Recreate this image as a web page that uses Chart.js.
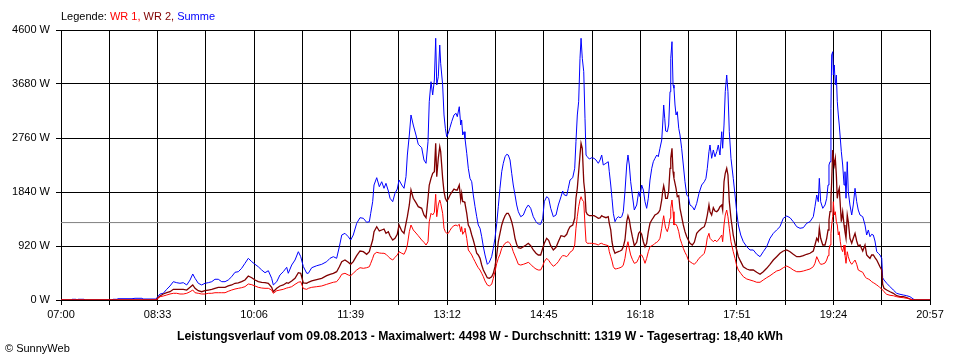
<!DOCTYPE html>
<html><head><meta charset="utf-8">
<script src="https://cdn.jsdelivr.net/npm/chart.js@4.4.0/dist/chart.umd.min.js"></script>
<style>html,body{margin:0;padding:0;background:#fff;}canvas{display:block;}</style>
</head><body>
<canvas id="c" width="960" height="360"></canvas>
<script>
// ---- data ----
const dayLabel = '09.08.2013';
const seriesNames = ['WR 1', 'WR 2', 'Summe'];
const xTickLabels = ['07:00','08:33','10:06','11:39','13:12','14:45','16:18','17:51','19:24','20:57'];
const yTickValues = [0, 920, 1840, 2760, 3680, 4600];
const averageW = 1319;
const maxW = 4498;
const yieldKWh = '18,40';

// minutes after 07:00
const minutes = [0,10,10.6,14.5,15.5,16.4,22.2,23.2,49,50.1,53.9,54.9,68.4,71.3,78,79,92,
92.8,95.4,98.5,101.8,105,108.2,111.4,114.6,117.8,121.1,124.3,126.9,129.1,132.2,135.5,138.7,141.9,145.2,148.3,151.5,154.8,158,161.1,164.4,167.6,170.8,174,177.2,180.4,183.7,186.9,190,193.3,196.5,199.7,202.9,204.5,207.8,210.9,214.1,217.4,218.9,222.2,225.4,228.6,230.9,233.4,236.7,238.2,241.5,246.3,251.1,255.9,259.1,262.3,265.5,268.1,270.4,273.5,276.7,279,281.5,284.8,288,291.2,294.4,297,298.3,300.2,301.5,304.1,306.6,308.9,311.1,313,315.3,316.9,319.5,321.7,323.9,325.6,328.2,330.4,332.3,333.6,335.5,337.1,339.3,341.9,344.1,347.4,349.6,351.6,353.5,354.7,356.4,358,359.6,360.9,361.9,363.4,364.8,365.7,367.6,368.9,370.2,371.5,373,374.7,376.3,378.5,380.5,381.7,383.6,385,385.9,386.9,388.2,389.1,390.8,392.3,393.9,395.6,397.1,398.8,400.4,401.9,403.6,405.2,406.8,408.4,410.6,412.5,414.8,416.4,418,419.7,421.2,422.8,424.5,426,427.7,429.3,430.8,432.5,434.1,435.6,437.3,438.9,440.5,442.8,445.3,447.9,450.1,452.4,454.9,457.5,459.7,462,464,465.5,467.8,469.7,471.7,474.2,476.8,479,481.6,483.2,484.8,487.1,488.6,490.3,492.9,494.8,496,497.3,498.6,499.9,500.9,502.1,503.5,504.7,505.7,506.9,508.9,511.2,513.4,515.3,517.5,519.2,520.8,522.3,524.9,527.1,528.1,529.5,530.7,532,533.6,535.2,536.8,538.4,540.1,541.6,543.2,544.9,546.1,547.4,548.7,550.3,552.2,554.5,556.4,557.7,559.3,560.9,562.5,564.1,565.7,567.3,569,570.5,572.1,573.8,575.3,576.9,578.6,579.5,580.5,581.5,582.4,584,585.3,586.6,587.3,588.5,589.5,590.4,591.4,592.4,593.6,595,596.2,597.8,599.4,601,602.7,604.2,605.8,608.1,610,612.3,614.5,617.1,619.6,621.2,622.5,624.1,625.1,626.7,628.3,629.9,631.6,633.1,634.7,636.4,637.3,638.6,639.8,641.2,642.4,643.7,645.3,647.5,649.2,650.8,652.4,654.7,657.2,660.5,663.6,666.8,670.1,673.3,676.4,679.7,682.9,686.1,689.3,692.5,695.7,699,702.2,705.3,708.6,711.8,715,718.2,721.4,724.6,726.2,727.9,729.4,730.4,731.7,733.7,735.9,737.5,738.8,739.7,740.7,741.6,742.3,743.3,743.9,744.8,745.8,746.8,747.7,748.7,749.6,750.6,751.6,752.9,754.2,755.1,756.1,757.3,758.3,759.9,761.6,763.1,764.8,766.4,767.9,769.6,772.2,774.4,776,777.6,779.2,780.8,782.4,784,785.7,787.2,788.8,790.5,791.4,792.7,795.3,798.5,801.7,804.9,808.1,811.3,814.6,817.7,820.9,822.6,837];

const summe = [0,0,12,12,0,12,12,0,0,12,12,22,22,29,29,17,17,
50,102,114,182,239,312,295,285,295,256,341,443,370,285,256,285,295,312,353,353,312,312,341,397,472,482,540,625,710,653,608,567,511,465,499,370,256,312,426,482,557,455,596,681,823,738,570,455,455,550,584,608,653,710,738,710,908,1107,1136,1078,1022,1107,1307,1402,1392,1324,1334,1477,1675,1959,2084,1930,2015,1903,1988,1857,1733,1675,1818,1891,2044,1959,1903,2101,2470,2811,3152,2981,2811,2653,2595,2385,2329,2697,3378,3719,3493,3748,4459,3663,3804,4344,4033,3663,3152,2925,2782,2840,2939,3038,3152,3181,3123,3293,2981,3067,2811,2867,2755,2499,2244,2073,2015,1789,1590,1419,1278,1222,1078,908,767,608,642,738,881,1051,1307,1590,1903,2186,2329,2441,2482,2470,2385,2159,1959,1789,1619,1504,1419,1448,1562,1619,1562,1419,1334,1295,1290,1392,1675,1760,1733,1562,1419,1448,1619,1760,1857,1789,1777,1903,2044,2084,2244,2697,3152,3378,4118,4459,4118,3890,3096,2470,2441,2402,2424,2414,2385,2329,2385,2470,2300,2329,2356,2186,1959,1733,1477,1334,1392,1419,1402,1419,1504,1845,2300,2470,2300,2015,1789,1533,1619,1845,1760,1959,1874,1675,1562,1733,2044,2244,2356,2414,2470,2441,2585,2726,2981,3322,3096,2879,2867,2981,3549,4118,4401,3663,3607,3322,3152,3208,2925,2811,2585,2300,2015,1789,1760,1619,1590,1533,1647,1818,1959,2015,2073,2244,2527,2641,2414,2556,2441,2527,2641,2470,2867,2585,2981,3549,3833,3549,2867,2414,2073,1789,1504,1278,1107,993,908,852,852,779,738,823,908,1051,1136,1193,1249,1392,1431,1402,1334,1249,1222,1232,1307,1334,1419,1590,1789,1675,2073,1675,1562,1619,1733,1959,2300,2356,3266,4174,4230,3833,4004,3663,3833,3378,3152,2981,2755,2527,2300,1959,2186,1733,2356,1845,1619,1448,1619,1903,1675,1533,1448,1419,1278,1107,1193,1078,1119,1107,1005,823,796,767,710,380,341,285,227,170,114,97,85,73,56,17,0,0];

const wr2 = [0,0,0,0,0,0,0,0,0,0,0,0,0,0,0,0,0,
30,68,102,124,141,182,182,182,182,170,216,256,199,158,141,158,170,182,199,216,216,216,239,256,285,290,312,341,409,380,341,312,302,295,285,216,141,199,239,256,295,285,324,370,465,455,290,285,302,324,346,370,414,438,455,482,567,653,681,642,608,653,755,835,823,779,823,908,1022,1164,1249,1176,1193,1210,1136,1164,1095,1022,1051,1119,1278,1176,1136,1307,1419,1619,1874,1733,1658,1590,1562,1448,1402,1733,1959,2073,2159,2186,2670,2101,2414,2612,2527,2073,1845,1733,1687,1721,1789,1835,1891,1874,1874,1959,1704,1818,1675,1675,1647,1477,1278,1222,1107,1022,908,796,767,710,596,511,455,380,370,397,455,567,767,993,1136,1278,1363,1436,1477,1477,1419,1334,1222,1051,949,891,881,908,937,966,925,852,796,767,767,881,966,1051,1017,925,852,898,993,1095,1090,1078,1119,1193,1249,1278,1392,1733,1903,2186,2470,2670,2585,2015,1818,1504,1460,1436,1436,1436,1419,1392,1400,1436,1419,1402,1419,1307,1193,993,869,796,813,823,835,852,908,1022,1334,1436,1363,1222,1078,925,983,1136,1164,1119,993,908,966,1164,1307,1363,1402,1448,1465,1487,1533,1704,1845,1947,1857,1733,1733,1857,2244,2414,2585,2186,2073,1988,1903,1760,1777,1562,1419,1278,1164,1078,1022,966,937,983,1136,1181,1222,1249,1334,1448,1619,1504,1448,1573,1516,1504,1533,1590,1619,1533,2015,2159,2244,2130,1675,1392,1107,966,852,738,653,567,528,511,511,472,438,482,540,608,681,738,796,835,852,823,779,738,738,755,779,796,835,937,1051,1005,1222,1051,937,937,1051,1193,1363,1504,1733,2015,2556,2414,2300,2414,2130,1733,1845,1903,1619,1334,1504,1278,1164,1051,1448,1334,1051,966,1051,1136,1005,920,937,835,937,767,738,710,767,767,721,681,625,567,511,267,199,170,141,114,73,56,56,39,17,0,0,0];

const wr1 = [0,0,0,0,0,0,0,0,0,0,0,0,0,0,0,0,0,
20,56,68,85,102,114,114,102,102,114,141,170,124,114,102,102,114,114,124,124,124,124,148,170,187,199,210,227,273,261,239,216,204,199,199,170,114,158,170,182,204,210,227,267,302,312,195,182,199,216,227,239,267,285,302,312,370,438,455,426,414,455,511,550,540,550,567,625,710,779,813,801,796,796,779,738,710,681,727,767,823,796,779,852,937,1164,1278,1193,1141,1095,1022,983,937,993,1334,1477,1448,1494,1801,1419,1619,1704,1647,1477,1222,1164,1136,1136,1187,1232,1266,1278,1261,1290,1164,1249,1119,1164,1222,1051,852,813,767,710,653,596,550,511,455,397,324,256,239,267,370,482,625,710,779,881,925,966,983,993,959,908,823,750,681,608,596,608,625,642,608,562,528,511,511,584,653,710,676,625,574,608,653,727,755,755,738,767,813,847,937,1222,1419,1590,1704,1760,1704,1675,1278,993,966,966,966,959,954,937,960,966,949,937,925,823,738,664,567,528,533,540,550,562,596,710,908,993,869,767,693,625,642,710,767,767,710,625,710,823,908,925,937,966,983,1005,1051,1222,1334,1436,1307,1222,1164,1249,1392,1562,1704,1504,1278,1290,1290,1249,1164,1051,966,881,813,755,681,653,625,608,653,710,750,796,908,1061,1136,1051,1022,993,1022,993,1022,1061,1107,993,1278,1448,1533,1419,1222,993,823,710,584,511,455,397,358,341,324,302,302,341,380,414,455,494,511,550,579,550,511,482,482,494,511,528,567,625,738,681,642,608,613,630,681,755,852,937,1136,1278,1419,1675,1448,1504,1334,1278,1107,1164,993,881,823,937,767,625,823,738,653,608,642,681,608,511,494,472,397,370,358,341,312,295,278,256,239,210,187,170,141,97,80,73,56,46,39,29,17,0,0,0];

// ---- helpers ----
const toMin = s => { const [h, m] = s.split(':').map(Number); return h * 60 + m; };
const spanMin = toMin(xTickLabels[xTickLabels.length - 1]) - toMin(xTickLabels[0]);
const gridSteps = (xTickLabels.length - 1) * 2;
const pts = arr => minutes.map((m, i) => ({ x: m, y: arr[i] }));
const FONT = "'Liberation Sans', Arial, sans-serif";
const colors = ['#ff0000', '#800000', '#0000ff'];

Chart.defaults.font.family = FONT;
Chart.defaults.font.size = 11;
Chart.defaults.color = '#000';

const textPlugin = {
  id: 'texts',
  afterDraw(chart) {
    const ctx = chart.ctx;
    ctx.save();
    ctx.textBaseline = 'middle';
    ctx.textAlign = 'left';
    ctx.font = '11px ' + FONT;
    let x = chart.chartArea.left;
    const parts = [['Legende: ', '#000']].concat(
      seriesNames.map((n, i) => [n + (i < seriesNames.length - 1 ? ', ' : ''), colors[i]]));
    parts.forEach(([t, c]) => { ctx.fillStyle = c; ctx.fillText(t, x, 17); x += ctx.measureText(t).width; });
    ctx.fillStyle = '#000';
    ctx.font = 'bold 12.2px ' + FONT;
    ctx.textAlign = 'center';
    const title = 'Leistungsverlauf vom ' + dayLabel + ' - Maximalwert: ' + maxW + ' W - Durchschnitt: ' +
      averageW + ' W - Tagesertrag: ' + yieldKWh + ' kWh';
    ctx.fillText(title, 480, 337);
    ctx.font = '11px ' + FONT;
    ctx.textAlign = 'left';
    ctx.fillText('\u00A9 SunnyWeb', 5, 349);
    ctx.restore();
  }
};

new Chart(document.getElementById('c'), {
  type: 'line',
  data: {
    datasets: [
      { label: seriesNames[0], data: pts(wr1), borderColor: colors[0], borderWidth: 1, order: 1 },
      { label: seriesNames[1], data: pts(wr2), borderColor: colors[1], borderWidth: 1.3, order: 2 },
      { label: seriesNames[2], data: pts(summe), borderColor: colors[2], borderWidth: 1, order: 3 },
      { label: 'avg', data: [{ x: 0, y: averageW }, { x: spanMin, y: averageW }], borderColor: '#808080', borderWidth: 1, order: 4 }
    ]
  },
  options: {
    responsive: false,
    animation: false,
    events: [],
    elements: { point: { radius: 0 }, line: { tension: 0, fill: false } },
    layout: { padding: { left: 0, right: 30, top: 30, bottom: 0 } },
    plugins: { legend: { display: false }, tooltip: { enabled: false }, title: { display: false } },
    scales: {
      x: {
        type: 'linear', min: 0, max: spanMin,
        afterBuildTicks: s => { s.ticks = Array.from({ length: gridSteps + 1 }, (_, i) => ({ value: i * spanMin / gridSteps })); },
        afterFit: s => { s.height = 60; },
        grid: { color: '#000', lineWidth: 1, tickLength: 5, tickColor: '#000' },
        border: { color: '#000', width: 1 },
        ticks: { autoSkip: false, maxRotation: 0, minRotation: 0, padding: 3, color: '#000',
          callback: (v, i) => (i % 2 === 0 ? xTickLabels[i / 2] : '') }
      },
      y: {
        type: 'linear', min: 0, max: yTickValues[yTickValues.length - 1],
        afterBuildTicks: s => { s.ticks = yTickValues.map(v => ({ value: v })); },
        afterFit: s => { s.width = 61; },
        grid: { color: '#000', lineWidth: 1, tickLength: 5, tickColor: '#000' },
        border: { color: '#000', width: 1 },
        ticks: { padding: 6, color: '#000', callback: v => v + ' W' }
      }
    }
  },
  plugins: [textPlugin]
});
</script>
</body></html>
